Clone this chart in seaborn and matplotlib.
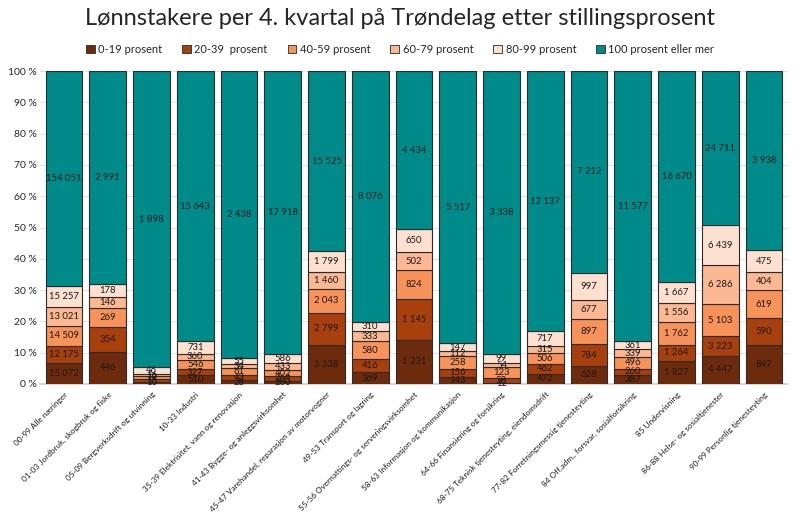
import numpy as np
import pandas as pd
import matplotlib
matplotlib.use("Agg")
import matplotlib.pyplot as plt
import matplotlib.transforms as mtransforms
import seaborn as sns
from matplotlib.patches import Patch

# Data
naeringer = [
    "00-99 Alle næringer",
    "01-03 Jordbruk, skogbruk og fiske",
    "05-09 Bergverksdrift og utvinning",
    "10-33 Industri",
    "35-39 Elektrisitet, vann og renovasjon",
    "41-43 Bygge- og anleggsvirksomhet",
    "45-47 Varehandel, reparasjon av motorvogner",
    "49-53 Transport og lagring",
    "55-56 Overnattings- og serveringsvirksomhet",
    "58-63 Informasjon og kommunikasjon",
    "64-66 Finansiering og forsikring",
    "68-75 Teknisk tjenesteyting, eiendomsdrift",
    "77-82 Forretningsmessig tjenesteyting",
    "84 Off.adm., forsvar, sosialforsikring",
    "85 Undervisning",
    "86-88 Helse- og sosialtjenester",
    "90-99 Personlig tjenesteyting",
]
serier = ["0-19 prosent", "20-39  prosent", "40-59 prosent",
          "60-79 prosent", "80-99 prosent", "100 prosent eller mer"]

p0_19 = [15072, 446, 10, 510, 28, 200, 3338, 369, 1231, 143, 12, 472, 628, 387, 1827, 4447, 847]
p20_39 = [12175, 354, 18, 327, 43, 264, 2799, 416, 1145, 156, 58, 462, 784, 260, 1264, 3223, 590]
p40_59 = [14509, 269, 19, 546, 61, 402, 2043, 580, 824, 258, 123, 506, 897, 496, 1762, 5103, 619]
p60_79 = [13021, 146, 16, 360, 34, 433, 1460, 333, 502, 112, 54, 315, 677, 339, 1556, 6286, 404]
p80_99 = [15257, 178, 46, 731, 55, 586, 1799, 310, 650, 147, 99, 717, 997, 361, 1667, 6439, 475]
p100 = [154051, 2991, 1898, 15643, 2438, 17918, 15525, 8076, 4434, 5517, 3338, 12137, 7212, 11577, 16670, 24711, 3938]

farger = ["#6e2a0c", "#a8400e", "#f7925a", "#fbb892", "#fde0cf", "#008b8b"]

verdier = np.array([p0_19, p20_39, p40_59, p60_79, p80_99, p100], dtype=float)
andel = verdier / verdier.sum(axis=0) * 100

sns.set_theme(style="whitegrid")
plt.rcParams["font.family"] = ["Lato", "DejaVu Sans"]

fig, ax = plt.subplots(figsize=(8, 5.2), dpi=100)
fig.subplots_adjust(left=0.05, right=0.985, top=0.863, bottom=0.262)

bunn = np.zeros(len(naeringer))
for i, navn in enumerate(serier):
    df = pd.DataFrame({"naering": naeringer, "andel": andel[i]})
    sns.barplot(data=df, x="naering", y="andel", bottom=bunn, color=farger[i],
                width=0.84, edgecolor="#2b2b2b", linewidth=0.8, saturation=1,
                ax=ax, zorder=3)
    for j in range(len(naeringer)):
        tekst = f"{int(verdier[i, j]):,}".replace(",", " ")
        ax.text(j, bunn[j] + andel[i, j] / 2, tekst, ha="center", va="center",
                fontsize=6.8, color="#1a1a1a", zorder=4)
    bunn = bunn + andel[i]

ax.set_ylim(0, 100)
ax.set_xlim(-0.55, len(naeringer) - 0.45)
ax.set_yticks(range(0, 101, 10))
ax.set_yticklabels([f"{v} %" for v in range(0, 101, 10)], fontsize=7.5)
ax.set_xticks(range(len(naeringer)))
ax.set_xticklabels(naeringer, rotation=45, ha="right", rotation_mode="anchor", fontsize=5.9)
forskyv = mtransforms.ScaledTranslation(6 / 100, 0, fig.dpi_scale_trans)
for lbl in ax.get_xticklabels():
    lbl.set_color("#1a1a1a")
    lbl.set_transform(lbl.get_transform() + forskyv)
ax.set_xlabel("")
ax.set_ylabel("")
ax.grid(axis="y", color="#e3e3e3", linewidth=0.8)
ax.grid(axis="x", visible=False)
for s in ["top", "right", "left"]:
    ax.spines[s].set_visible(False)
ax.spines["bottom"].set_color("#d0d0d0")
ax.tick_params(axis="x", length=0, pad=5)
ax.tick_params(axis="y", length=0, pad=2)

fig.suptitle("Lønnstakere per 4. kvartal på Trøndelag etter stillingsprosent",
             fontsize=17, y=0.985)
handles = [Patch(facecolor=farger[i], edgecolor="#2b2b2b", linewidth=0.6) for i in range(6)]
fig.legend(handles, serier, loc="center", bbox_to_anchor=(0.5, 0.905), ncol=6,
           frameon=False, fontsize=8, handlelength=0.8, handleheight=0.8,
           handletextpad=0.3, columnspacing=1.8)

fig.savefig("out.png", dpi=100)
